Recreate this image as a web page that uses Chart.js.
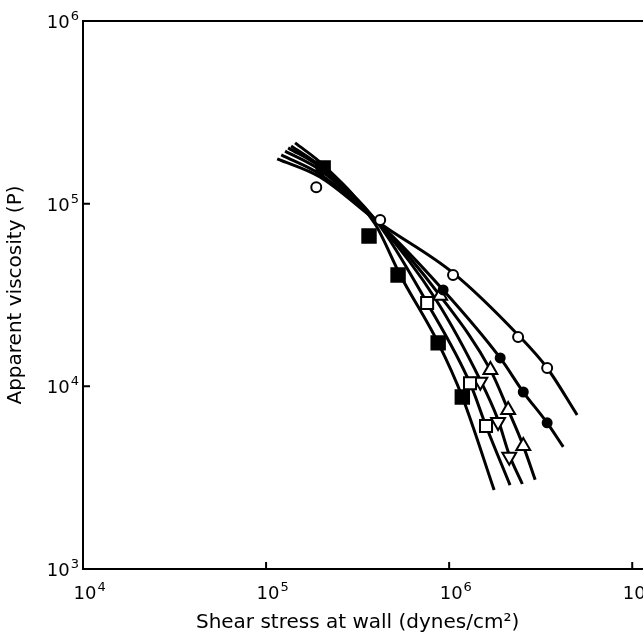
<!DOCTYPE html>
<html>
<head>
<meta charset="utf-8">
<script src="https://cdn.jsdelivr.net/npm/chart.js@4.4.1/dist/chart.umd.min.js"></script>
<style>
  html, body { margin: 0; padding: 0; background: #fff; overflow: hidden; }
  #wrap { width: 678px; height: 635px; }
</style>
</head>
<body>
<div id="wrap"><canvas id="viscChart" width="678" height="635"></canvas></div>
<script>
// Apparent viscosity vs wall shear stress, log-log
// points are [shear stress (dynes/cm2), apparent viscosity (P)]

const xTickValues = [1e4, 1e5, 1e6, 1e7];
const yTickValues = [1e3, 1e4, 1e5, 1e6];

// measured points
const openCircles   = [[1.88e5, 1.23e5], [4.2e5, 8.15e4], [1.05e6, 4.07e4], [2.38e6, 1.86e4], [3.43e6, 1.26e4]];
const filledCircles = [[9.27e5, 3.37e4], [1.90e6, 1.43e4], [2.54e6, 9.31e3], [3.43e6, 6.31e3]];
const filledSquares = [[2.05e5, 1.57e5], [3.65e5, 6.66e4], [5.26e5, 4.07e4], [8.71e5, 1.73e4], [1.18e6, 8.75e3]];
const openSquares   = [[7.58e5, 2.86e4], [1.30e6, 1.04e4], [1.59e6, 6.07e3]];
const trianglesUp   = [[8.93e5, 3.13e4], [1.68e6, 1.23e4], [2.10e6, 7.43e3], [2.54e6, 4.72e3]];
const trianglesDown = [[1.48e6, 1.06e4], [1.85e6, 6.38e3], [2.13e6, 4.11e3]];

// smooth fitted curves
const openCircleFit   = [[1.15e5, 1.76e5], [1.97e5, 1.40e5], [4.09e5, 7.94e4], [1.05e6, 4.18e4], [2.38e6, 1.91e4], [3.43e6, 1.26e4], [5.0e6, 6.97e3]];
const filledCircleFit = [[1.21e5, 1.85e5], [1.97e5, 1.45e5], [4.09e5, 7.9e4], [9.27e5, 3.37e4], [1.90e6, 1.43e4], [2.54e6, 9.31e3], [3.43e6, 6.31e3], [4.20e6, 4.66e3]];
const triangleUpFit   = [[1.27e5, 1.94e5], [1.97e5, 1.53e5], [4.09e5, 7.9e4], [8.93e5, 3.13e4], [1.68e6, 1.23e4], [2.10e6, 7.43e3], [2.54e6, 4.72e3], [2.95e6, 3.08e3]];
const triangleDownFit = [[1.32e5, 2.02e5], [1.97e5, 1.59e5], [4.09e5, 7.85e4], [8.49e5, 2.97e4], [1.48e6, 1.08e4], [1.85e6, 6.55e3], [2.13e6, 4.22e3], [2.51e6, 2.92e3]];
const openSquareFit   = [[1.37e5, 2.07e5], [1.97e5, 1.61e5], [4.09e5, 7.8e4], [7.58e5, 2.86e4], [1.30e6, 1.04e4], [1.59e6, 6.07e3], [2.15e6, 2.88e3]];
const filledSquareFit = [[1.44e5, 2.15e5], [2.05e5, 1.63e5], [3.94e5, 7.74e4], [5.40e5, 4.07e4], [8.71e5, 1.73e4], [1.18e6, 8.75e3], [1.76e6, 2.71e3]];

const xTitle = 'Shear stress at wall (dynes/cm\u00B2)';
const yTitle = 'Apparent viscosity (P)';

const FONT = "'DejaVu Sans', sans-serif";
Chart.defaults.font.family = FONT;
Chart.defaults.color = '#000';

const toXY = arr => arr.map(p => ({ x: p[0], y: p[1] }));

function curve(points) {
    return {
        data: toXY(points), showLine: true, order: 1,
        borderColor: '#000', borderWidth: 3, pointRadius: 0,
        cubicInterpolationMode: 'monotone'
    };
}

function markers(points, style, radius, fill, rotation) {
    return {
        data: toXY(points), showLine: false, order: 0,
        pointStyle: style, pointRadius: radius, pointRotation: rotation || 0,
        pointBackgroundColor: fill, pointBorderColor: '#000', pointBorderWidth: 2
    };
}

// small inward tick marks on the axes
const inwardTicks = {
    id: 'inwardTicks',
    afterDatasetsDraw(chart) {
        const { ctx, chartArea, scales: { x, y } } = chart;
        ctx.save();
        ctx.strokeStyle = '#000';
        ctx.lineWidth = 2;
        ctx.beginPath();
        x.ticks.forEach(t => {
            const px = x.getPixelForValue(t.value);
            if (px > chartArea.left + 2) {
                ctx.moveTo(px, chartArea.bottom);
                ctx.lineTo(px, chartArea.bottom - 7);
            }
        });
        y.ticks.forEach(t => {
            const py = y.getPixelForValue(t.value);
            if (py > chartArea.top + 2 && py < chartArea.bottom - 2) {
                ctx.moveTo(chartArea.left, py);
                ctx.lineTo(chartArea.left + 7, py);
            }
        });
        ctx.stroke();
        ctx.restore();
    }
};

// "10" with a raised exponent at every decade tick, plus the x title
const powerLabels = {
    id: 'powerLabels',
    afterDraw(chart) {
        const { ctx, chartArea, scales: { x, y } } = chart;
        const baseFont = '18px ' + FONT;
        const expFont = '13px ' + FONT;
        ctx.save();
        ctx.fillStyle = '#000';
        ctx.textBaseline = 'alphabetic';
        ctx.textAlign = 'left';

        const parts = value => {
            const exp = String(Math.round(Math.log10(value)));
            ctx.font = baseFont;
            const wBase = ctx.measureText('10').width;
            ctx.font = expFont;
            const wExp = ctx.measureText(exp).width;
            return { exp, wBase, wExp };
        };
        const draw = (p, left, baseline) => {
            ctx.font = baseFont;
            ctx.fillText('10', left, baseline);
            ctx.font = expFont;
            ctx.fillText(p.exp, left + p.wBase + 1, baseline - 8);
        };

        x.ticks.forEach(t => {
            const p = parts(t.value);
            const px = x.getPixelForValue(t.value);
            draw(p, px + 2 - p.wBase / 2, chartArea.bottom + 30);
        });
        y.ticks.forEach(t => {
            const p = parts(t.value);
            const py = y.getPixelForValue(t.value);
            draw(p, chartArea.left - 4 - p.wExp - 1 - p.wBase, py + 7);
        });

        ctx.font = '20px ' + FONT;
        ctx.textAlign = 'center';
        ctx.fillText(xTitle, x.getPixelForValue(Math.pow(10, 5.5)), chart.height - 7);
        ctx.restore();
    }
};

const fixedTicks = list => scale => { scale.ticks = list.map(v => ({ value: v })); };

const ctxVisc = document.getElementById('viscChart').getContext('2d');
new Chart(ctxVisc, {
    type: 'scatter',
    data: {
        datasets: [
            markers(openCircles, 'circle', 5, '#fff'),
            markers(filledCircles, 'circle', 4.5, '#000'),
            markers(filledSquares, 'rect', 9.5, '#000'),
            markers(openSquares, 'rect', 8.5, '#fff'),
            markers(trianglesUp, 'triangle', 8, '#fff'),
            markers(trianglesDown, 'triangle', 8, '#fff', 180),
            curve(openCircleFit),
            curve(filledCircleFit),
            curve(triangleUpFit),
            curve(triangleDownFit),
            curve(openSquareFit),
            curve(filledSquareFit)
        ]
    },
    options: {
        responsive: false,
        animation: false,
        devicePixelRatio: 1,
        layout: { autoPadding: false, padding: { top: 21, right: 0, bottom: 0, left: 0 } },
        plugins: { legend: { display: false }, tooltip: { enabled: false } },
        scales: {
            x: {
                type: 'logarithmic', position: 'bottom',
                min: 1e4, max: Math.pow(10, 7.25),
                afterBuildTicks: fixedTicks(xTickValues),
                afterFit: s => { s.height = 66; },
                grid: { display: false },
                border: { display: true, color: '#000', width: 2 },
                ticks: { display: false }
            },
            xTop: {
                type: 'logarithmic', position: 'top',
                min: 1e4, max: Math.pow(10, 7.25),
                afterFit: s => { s.height = 0; },
                grid: { display: false },
                border: { display: true, color: '#000', width: 2 },
                ticks: { display: false }
            },
            y: {
                type: 'logarithmic', position: 'left',
                min: 1e3, max: 1e6,
                afterBuildTicks: fixedTicks(yTickValues),
                afterFit: s => { s.width = 83; },
                grid: { display: false },
                border: { display: true, color: '#000', width: 2 },
                ticks: { display: false },
                title: { display: true, text: yTitle, font: { size: 20 }, padding: { top: 4, bottom: 0 } }
            }
        }
    },
    plugins: [inwardTicks, powerLabels]
});
</script>
</body>
</html>
